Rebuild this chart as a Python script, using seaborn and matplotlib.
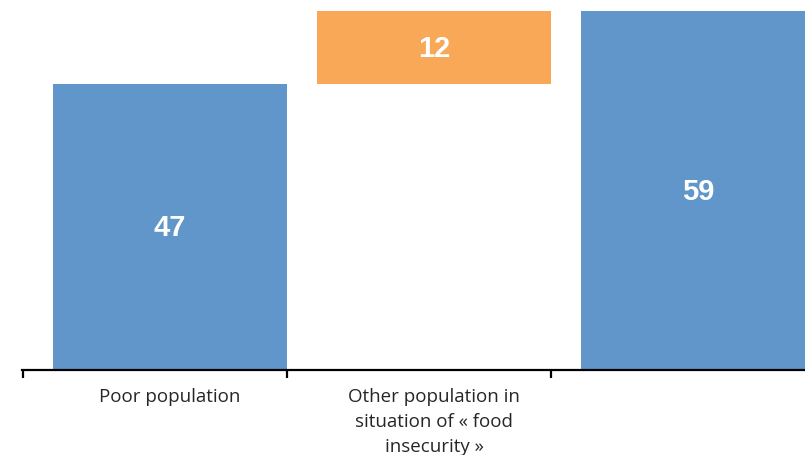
import matplotlib
matplotlib.use("Agg")
import matplotlib.pyplot as plt
import seaborn as sns
import numpy as np

# Waterfall: poor population + others in food insecurity = total
categories = ["Poor population", "Other population in\nsituation of « food\ninsecurity »", ""]
values = [47, 12, 59]
bases = [0, 47, 0]
bar_colors = ["#6096C9", "#F9A857", "#6096C9"]

sns.set_theme(style="white")
plt.rcParams["font.family"] = ["Open Sans", "DejaVu Sans"]

fig = plt.figure(figsize=(8.05, 4.56), dpi=100)
ax = fig.add_axes([22 / 805, 85 / 456, 783 / 805, 359 / 456])

bar_w = 234 / 264
sns.barplot(x=categories, y=values, bottom=bases, width=bar_w,
            color=bar_colors[0], saturation=1, ax=ax, order=categories)
for patch, col in zip(ax.patches, bar_colors):
    patch.set_facecolor(col)
    patch.set_edgecolor("none")

for i, (v, b) in enumerate(zip(values, bases)):
    ax.text(i, b + v / 2, f"{v}", ha="center", va="center", color="white",
            fontsize=21, fontweight="bold", family=["Liberation Sans", "DejaVu Sans"])

ax.set_yticks([])
for s in ["top", "right", "left"]:
    ax.spines[s].set_visible(False)
ax.spines["bottom"].set_color("black")
ax.spines["bottom"].set_linewidth(1.6)

# category boundaries as ticks, labels centred on bars
bounds = np.arange(-1, 3) + bar_w / 2
ax.set_xticks(bounds, minor=True)
ax.tick_params(axis="x", which="minor", direction="out", length=5.5, width=1.6,
               color="black", bottom=True)
ax.tick_params(axis="x", which="major", length=0, pad=12, labelsize=13.5,
               labelcolor="#262626")
for lbl in ax.get_xticklabels():
    lbl.set_linespacing(1.5)
ax.set_xlabel("")

ax.set_xlim(-148 / 264, 635 / 264)
ax.set_ylim(0, 59)

fig.savefig("out.png", dpi=100)
